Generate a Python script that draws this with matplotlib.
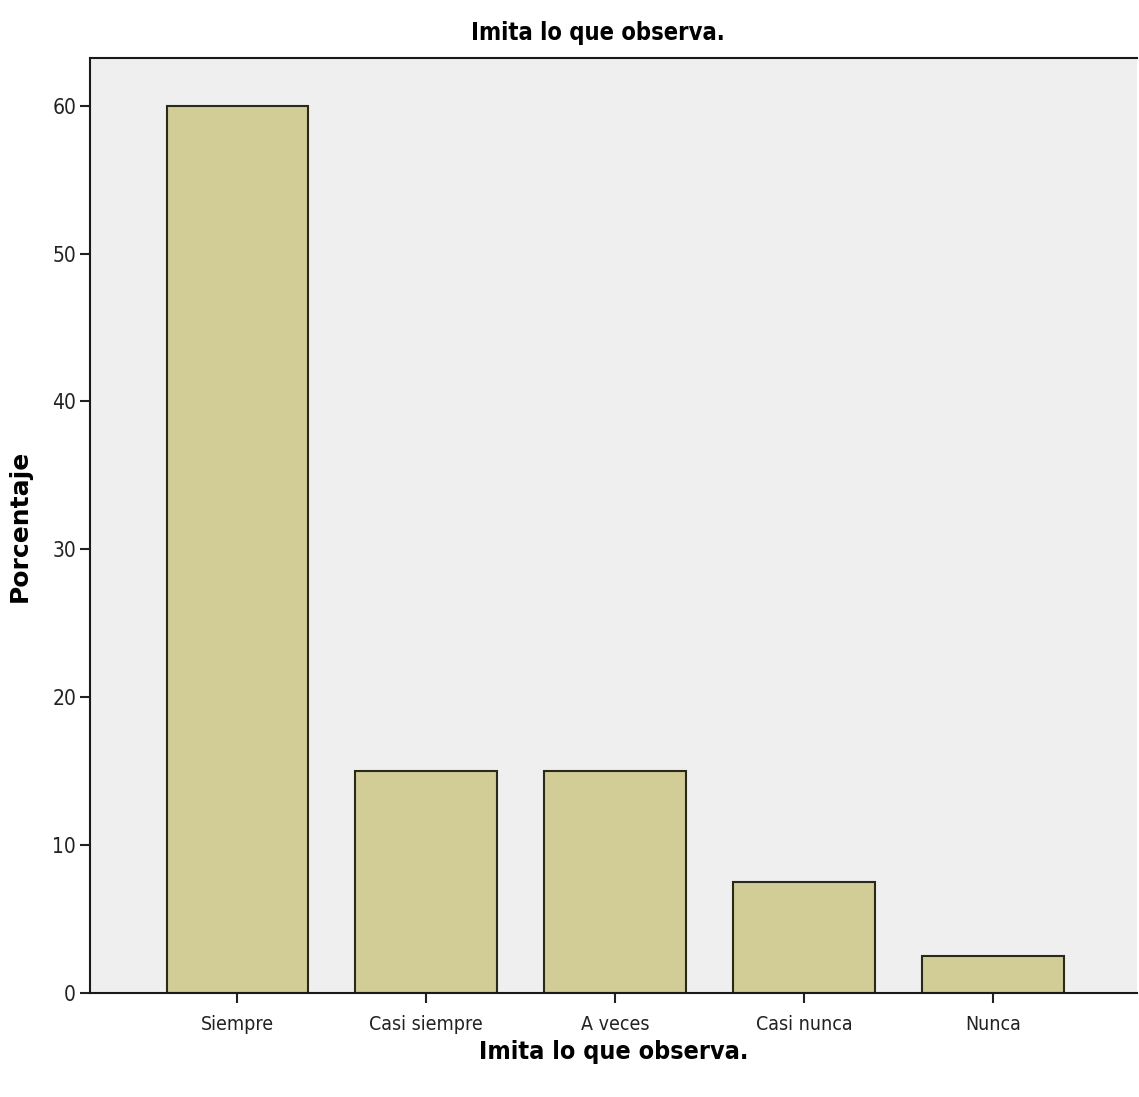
import matplotlib
matplotlib.use("Agg")
import matplotlib.pyplot as plt

categorias = ["Siempre", "Casi siempre", "A veces", "Casi nunca", "Nunca"]
porcentajes = [60.0, 15.0, 15.0, 7.5, 2.5]
yticks = [0, 10, 20, 30, 40, 50, 60]

narrow = dict(family="DejaVu Sans", stretch="condensed")

fig = plt.figure(figsize=(11.39, 10.97), dpi=100)
ax = fig.add_axes([0.079, 0.0948, 0.919, 0.852])
ax.set_facecolor("#efefef")

x = range(len(categorias))
ax.bar(x, porcentajes, width=0.75, color="#d2cd96", edgecolor="#2a2a1a", linewidth=1.5)

ax.set_xlim(-0.78, 4.76)
ax.set_ylim(0, 63.2)
ax.set_yticks(yticks)
ax.set_xticks(list(x))
ax.set_xticklabels(categorias, fontsize=14, color="#222222", **narrow)
ax.set_yticklabels([str(v) for v in yticks], fontsize=15, color="#222222", **narrow)
ax.tick_params(axis="both", direction="out", length=7, width=1.5, color="#222222")
ax.tick_params(axis="x", pad=9)
ax.tick_params(axis="y", pad=3)

for side in ["left", "bottom", "top"]:
    ax.spines[side].set_linewidth(1.5)
    ax.spines[side].set_color("#1a1a1a")
ax.spines["right"].set_visible(False)

ax.set_title("Imita lo que observa.", fontsize=17, fontweight="bold", x=0.485, pad=13, **narrow)
ax.set_xlabel("Imita lo que observa.", fontsize=18, fontweight="bold", labelpad=4, **narrow)
ax.set_ylabel("Porcentaje", family="DejaVu Sans", fontsize=18, fontweight="bold")
ax.yaxis.set_label_coords(-0.056, 0.5)

fig.savefig("out.png", dpi=100)
